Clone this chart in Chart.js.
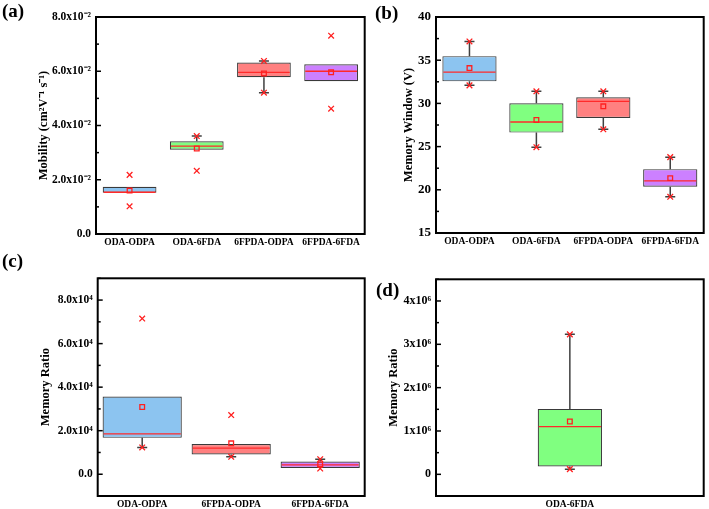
<!DOCTYPE html>
<html>
<head>
<meta charset="utf-8">
<script src="https://cdn.jsdelivr.net/npm/chart.js@4.4.1/dist/chart.umd.min.js"></script>
<style>
  body { margin: 0; background: #fff; }
  #wrap { position: relative; width: 709px; height: 509px; overflow: hidden; }
  canvas { position: absolute; }
  .tag { position: absolute; font: bold 19px "Liberation Serif", serif; line-height: 19px; color: #000; }
</style>
</head>
<body>
<div id="wrap">
  <canvas id="chartA" width="370" height="255" style="left:0;top:0"></canvas>
  <canvas id="chartB" width="354" height="255" style="left:355px;top:0"></canvas>
  <canvas id="chartC" width="370" height="254" style="left:0;top:255px"></canvas>
  <canvas id="chartD" width="354" height="254" style="left:355px;top:255px"></canvas>
  <div class="tag" style="left:2px;top:1px">(a)</div>
  <div class="tag" style="left:375px;top:3px">(b)</div>
  <div class="tag" style="left:2px;top:251px">(c)</div>
  <div class="tag" style="left:376px;top:280px">(d)</div>
</div>
<script>
// colours of the boxes, per category name
const boxColors = {
  "ODA-ODPA": "#8cc4f0",
  "ODA-6FDA": "#80ff80",
  "6FPDA-ODPA": "#ff8080",
  "6FPDA-6FDA": "#cc80ff",
};

// (a) mobility
const catsA = ["ODA-ODPA", "ODA-6FDA", "6FPDA-ODPA", "6FPDA-6FDA"];
const q1A = [0.0152, 0.0311, 0.0578, 0.0563];
const q3A = [0.0174, 0.0342, 0.0632, 0.0626];
const medA = [0.0154, 0.0324, 0.0596, 0.06];
const meanA = [0.016, 0.0315, 0.0592, 0.0596];
const whLoA = [0.0152, 0.0311, 0.0521, 0.0563];
const whHiA = [0.0174, 0.0361, 0.0638, 0.0626];
const minA = [0.0102, 0.0233, 0.0521, 0.0462];
const maxA = [0.0218, 0.0361, 0.0638, 0.0731];
const tickValsA = [0, 0.02, 0.04, 0.06, 0.08];
const tickTextA = ["0.0", "2.0x10⁻²", "4.0x10⁻²", "6.0x10⁻²", "8.0x10⁻²"];

// (b) memory window
const catsB = ["ODA-ODPA", "ODA-6FDA", "6FPDA-ODPA", "6FPDA-6FDA"];
const q1B = [32.55, 26.62, 28.31, 20.35];
const q3B = [35.47, 30.01, 30.7, 22.39];
const medB = [33.63, 27.85, 30.24, 21.04];
const meanB = [34.09, 28.08, 29.66, 21.35];
const whLoB = [32.09, 24.93, 27.0, 19.19];
const whHiB = [37.17, 31.4, 31.4, 23.78];
const minB = [32.09, 24.93, 27.0, 19.19];
const maxB = [37.17, 31.4, 31.4, 23.78];
const tickValsB = [15, 20, 25, 30, 35, 40];
const tickTextB = ["15", "20", "25", "30", "35", "40"];

// (c) memory ratio
const catsC = ["ODA-ODPA", "6FPDA-ODPA", "6FPDA-6FDA"];
const q1C = [16700, 9100, 2900];
const q3C = [35700, 13900, 5800];
const medC = [18500, 12000, 4300];
const meanC = [30900, 14200, 4500];
const whLoC = [12300, 8000, 2600];
const whHiC = [35700, 13900, 6900];
const minC = [12300, 8000, 2600];
const maxC = [71500, 27200, 6900];
const tickValsC = [0, 20000, 40000, 60000, 80000];
const tickTextC = ["0.0", "2.0x10⁴", "4.0x10⁴", "6.0x10⁴", "8.0x10⁴"];

// (d) memory ratio, ODA-6FDA only
const catsD = ["ODA-6FDA"];
const q1D = [180000];
const q3D = [1510000];
const medD = [1100000];
const meanD = [1220000];
const whLoD = [120000];
const whHiD = [3230000];
const minD = [120000];
const maxD = [3230000];
const tickValsD = [0, 1000000, 2000000, 3000000, 4000000];
const tickTextD = ["0", "1x10⁶", "2x10⁶", "3x10⁶", "4x10⁶"];

const SERIF = "'Liberation Serif', 'Times New Roman', serif";

// medians, whiskers, frame and inward ticks
const boxExtras = {
  id: "boxExtras",
  afterDatasetDraw(chart, args) {
    if (chart.data.datasets[args.index].type !== "bar") return;
    const p = chart.options.plugins.boxExtras;
    const ctx = chart.ctx;
    const y = chart.scales.y;
    ctx.save();
    args.meta.data.forEach((bar, i) => {
      const half = bar.width / 2;
      const yq1 = y.getPixelForValue(p.q1[i]);
      const yq3 = y.getPixelForValue(p.q3[i]);
      ctx.strokeStyle = "#404040";
      ctx.lineWidth = 1.5;
      [[p.whLo[i], yq1], [p.whHi[i], yq3]].forEach(([v, edge]) => {
        const yw = y.getPixelForValue(v);
        if (Math.abs(yw - edge) < 1) return;
        ctx.beginPath();
        ctx.moveTo(bar.x, edge);
        ctx.lineTo(bar.x, yw);
        ctx.moveTo(bar.x - 5, yw);
        ctx.lineTo(bar.x + 5, yw);
        ctx.stroke();
      });
      const ym = y.getPixelForValue(p.median[i]);
      ctx.strokeStyle = "#ff2a2a";
      ctx.lineWidth = 1.3;
      ctx.beginPath();
      ctx.moveTo(bar.x - half + 1, ym);
      ctx.lineTo(bar.x + half - 1, ym);
      ctx.stroke();
    });
    ctx.restore();
  },
  afterDraw(chart) {
    const p = chart.options.plugins.boxExtras;
    const { ctx, chartArea: a } = chart;
    const y = chart.scales.y;
    ctx.save();
    ctx.strokeStyle = "#000";
    ctx.lineWidth = 1.5;
    y.ticks.forEach((t) => {
      const py = y.getPixelForValue(t.value);
      const major = p.tickVals.some((v) => Math.abs(v - t.value) < 1e-9 * Math.max(1, Math.abs(v)));
      ctx.beginPath();
      ctx.moveTo(a.left, py);
      ctx.lineTo(a.left + (major ? 5 : 3), py);
      ctx.stroke();
    });
    ctx.lineWidth = 2;
    ctx.strokeRect(a.left, a.top, a.right - a.left, a.bottom - a.top);
    ctx.restore();
  },
};

function makePanel(id, d) {
  const labelFor = (value) => {
    const k = d.tickVals.findIndex((v) => Math.abs(v - value) < 1e-9 * Math.max(1, Math.abs(v)));
    return k >= 0 ? d.tickText[k] : "";
  };
  new Chart(document.getElementById(id), {
    type: "bar",
    data: {
      labels: d.cats,
      datasets: [
        {
          type: "line",
          data: d.max,
          showLine: false,
          pointStyle: "crossRot",
          pointRadius: 4,
          borderColor: "#ff2020",
          borderWidth: 1.3,
          order: 1,
        },
        {
          type: "line",
          data: d.min,
          showLine: false,
          pointStyle: "crossRot",
          pointRadius: 4,
          borderColor: "#ff2020",
          borderWidth: 1.3,
          order: 1,
        },
        {
          type: "line",
          data: d.mean,
          showLine: false,
          pointStyle: "rect",
          pointRadius: 3.3,
          borderColor: "#ff2020",
          backgroundColor: "rgba(0,0,0,0)",
          borderWidth: 1.3,
          order: 1,
        },
        {
          type: "bar",
          data: d.q1.map((v, i) => [v, d.q3[i]]),
          backgroundColor: d.cats.map((c) => boxColors[c]),
          borderColor: "#3a3a3a",
          borderWidth: 1.2,
          borderSkipped: false,
          barPercentage: d.barPct,
          categoryPercentage: 1,
          order: 2,
        },
      ],
    },
    options: {
      responsive: false,
      animation: false,
      events: [],
      layout: { padding: d.padding },
      plugins: {
        legend: { display: false },
        tooltip: { enabled: false },
        boxExtras: {
          q1: d.q1, q3: d.q3, median: d.median,
          whLo: d.whLo, whHi: d.whHi, tickVals: d.tickVals,
        },
      },
      scales: {
        x: {
          type: "category",
          offset: true,
          grid: { display: false, drawTicks: false },
          border: { display: false },
          ticks: {
            color: "#000",
            font: { family: SERIF, size: 9.5, weight: "bold" },
            padding: 3,
            maxRotation: 0,
            autoSkip: false,
          },
          afterFit: (s) => { s.height = d.xHeight; },
        },
        y: {
          type: "linear",
          min: d.yMin,
          max: d.yMax,
          grid: { display: false, drawTicks: false },
          border: { display: false },
          ticks: {
            stepSize: d.step,
            autoSkip: false,
            color: "#000",
            padding: 5,
            font: { family: SERIF, size: d.tickSize, weight: "bold" },
            callback: (value) => labelFor(value),
          },
          title: {
            display: true,
            text: d.title,
            color: "#000",
            padding: 0,
            font: { family: SERIF, size: 12.5, weight: "bold" },
          },
          afterFit: (s) => { s.width = d.yWidth; },
        },
      },
    },
    plugins: [boxExtras],
  });
}

makePanel("chartA", {
  cats: catsA, q1: q1A, q3: q3A, median: medA, mean: meanA,
  whLo: whLoA, whHi: whHiA, min: minA, max: maxA,
  tickVals: tickValsA, tickText: tickTextA,
  yMin: 0, yMax: 0.08, step: 0.01, barPct: 0.8, tickSize: 11.5,
  title: "Mobility (cm²V⁻¹ s⁻¹)",
  padding: { left: 36.5, top: 17, right: 5, bottom: 0 },
  yWidth: 59.5, xHeight: 21,
});

makePanel("chartB", {
  cats: catsB, q1: q1B, q3: q3B, median: medB, mean: meanB,
  whLo: whLoB, whHi: whHiB, min: minB, max: maxB,
  tickVals: tickValsB, tickText: tickTextB,
  yMin: 15, yMax: 40, step: 2.5, barPct: 0.81, tickSize: 13,
  title: "Memory Window (V)",
  padding: { left: 46.5, top: 17, right: 3, bottom: 0 },
  yWidth: 34.5, xHeight: 22,
});

makePanel("chartC", {
  cats: catsC, q1: q1C, q3: q3C, median: medC, mean: meanC,
  whLo: whLoC, whHi: whHiC, min: minC, max: maxC,
  tickVals: tickValsC, tickText: tickTextC,
  yMin: -10000, yMax: 90000, step: 10000, barPct: 0.89, tickSize: 11.5,
  title: "Memory Ratio",
  padding: { left: 38.2, top: 23.3, right: 5, bottom: 0 },
  yWidth: 59.5, xHeight: 13,
});

makePanel("chartD", {
  cats: catsD, q1: q1D, q3: q3D, median: medD, mean: meanD,
  whLo: whLoD, whHi: whHiD, min: minD, max: maxD,
  tickVals: tickValsD, tickText: tickTextD,
  yMin: -500000, yMax: 4500000, step: 500000, barPct: 0.24, tickSize: 12,
  title: "Memory Ratio",
  padding: { left: 31.5, top: 24.3, right: 4, bottom: 0 },
  yWidth: 49.5, xHeight: 13,
});
</script>
</body>
</html>
